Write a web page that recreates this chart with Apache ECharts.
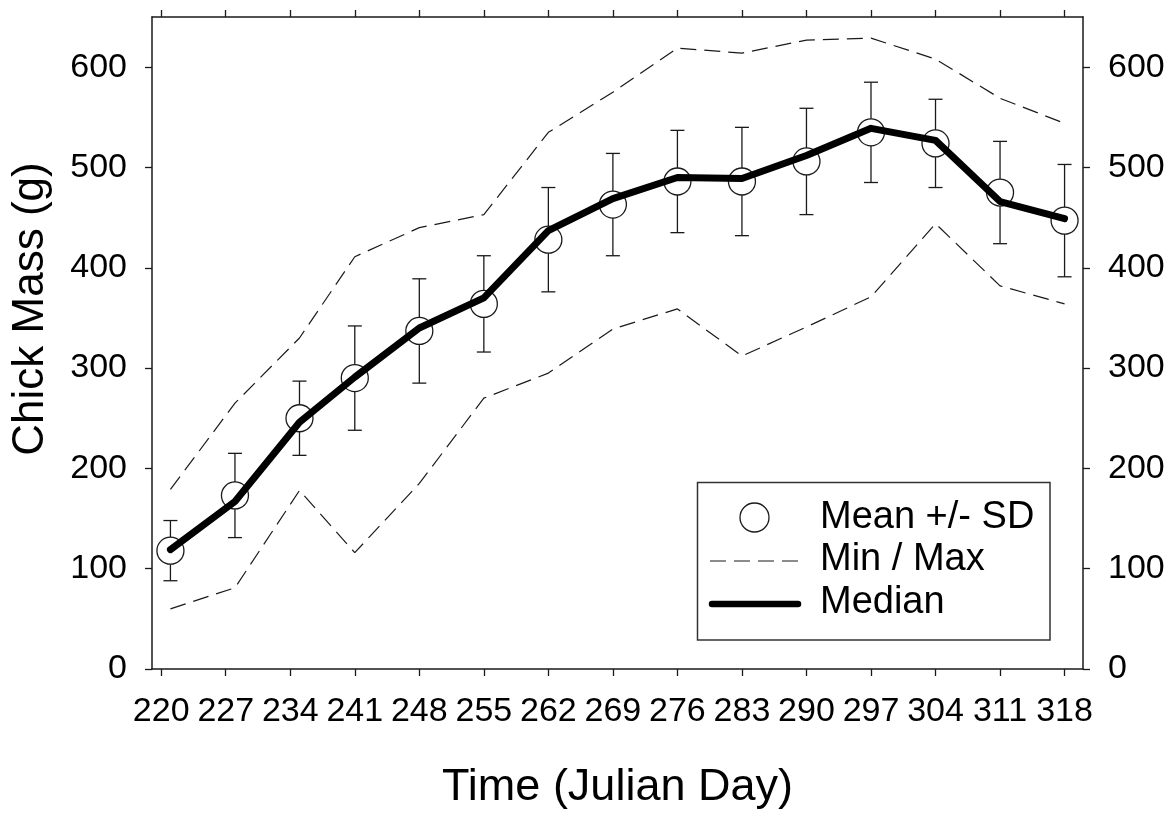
<!DOCTYPE html>
<html>
<head>
<meta charset="utf-8">
<title>Chick Mass</title>
<script src="https://cdn.jsdelivr.net/npm/echarts@6/dist/echarts.min.js"></script>
<style>
  html, body { margin: 0; padding: 0; background: #fff; }
  #chart { width: 1171px; height: 813px; }
</style>
</head>
<body>
<div id="chart"></div>
<script>
// tick labels
var dayTicks = [220, 227, 234, 241, 248, 255, 262, 269, 276, 283, 290, 297, 304, 311, 318]
var massTicks = [0, 100, 200, 300, 400, 500, 600]

// sampling days and values
var sampleDays = [221, 228, 235, 241, 248, 255, 262, 269, 276, 283, 290, 297, 304, 311, 318]
var meanMass   = [118, 173, 250, 290, 337, 364, 428, 463, 486, 486, 506, 535, 524, 475, 447]
var sdMass     = [30, 42, 37, 52, 52, 48, 52, 51, 51, 54, 53, 50, 44, 51, 56]
var medianMass = [119, 167, 246, 291, 340, 370, 437, 469, 490, 489, 512, 539, 527, 466, 449]
var minMass    = [60, 81, 178, 116, 185, 270, 295, 339, 359, 312, 341, 371, 444, 382, 364]
var maxMass    = [179, 265, 330, 411, 440, 453, 535, 575, 619, 614, 627, 629, 608, 569, 544]

var font = "Liberation Sans"
var ink = '#1a1a1a'
var dash = [16, 8]

function pairs(xs, ys) {
    var out = []
    for (var i = 0; i < xs.length; i++) out.push([xs[i], ys[i]])
    return out
}

var errData = []
for (var i = 0; i < sampleDays.length; i++) {
    errData.push([sampleDays[i], meanMass[i] - sdMass[i], meanMass[i] + sdMass[i]])
}

function renderErrorBar(params, api) {
    var x = api.value(0)
    var top = api.coord([x, api.value(2)])
    var bot = api.coord([x, api.value(1)])
    var cap = 7
    var st = { stroke: ink, lineWidth: 1.3 }
    return {
        type: 'group',
        children: [
            { type: 'line', shape: { x1: top[0], y1: top[1], x2: bot[0], y2: bot[1] }, style: st },
            { type: 'line', shape: { x1: top[0] - cap, y1: top[1], x2: top[0] + cap, y2: top[1] }, style: st },
            { type: 'line', shape: { x1: bot[0] - cap, y1: bot[1], x2: bot[0] + cap, y2: bot[1] }, style: st }
        ]
    }
}

function xAxisCfg(pos, withLabels) {
    return {
        type: 'value',
        position: pos,
        min: 219,
        max: 320,
        axisLine: { show: true, onZero: false, lineStyle: { color: ink, width: 1.5 } },
        axisTick: { show: true, customValues: dayTicks, length: 7, lineStyle: { color: ink, width: 1.3 } },
        axisLabel: { show: withLabels, customValues: dayTicks, margin: 26, fontSize: 34, color: '#000', fontFamily: font },
        splitLine: { show: false },
        name: withLabels ? 'Time (Julian Day)' : '',
        nameLocation: 'middle',
        nameGap: 96,
        nameTextStyle: { fontSize: 45, color: '#000', fontFamily: font }
    }
}

function yAxisCfg(pos) {
    return {
        type: 'value',
        position: pos,
        min: 0,
        max: 650,
        axisLine: { show: true, onZero: false, lineStyle: { color: ink, width: 1.5 } },
        axisTick: { show: true, customValues: massTicks, length: 7, lineStyle: { color: ink, width: 1.3 } },
        axisLabel: { customValues: massTicks, margin: 25, fontSize: 34, color: '#000', fontFamily: font },
        splitLine: { show: false }
    }
}

function legendText(y, txt) {
    return {
        type: 'text', x: 820, y: y, z: 11,
        style: { text: txt, fontSize: 38, fontFamily: font, fill: '#000', align: 'left', verticalAlign: 'middle' }
    }
}

var chart = echarts.init(document.getElementById('chart'))

var option = {
    animation: false,
    backgroundColor: '#fff',
    grid: { left: 152, right: 88, top: 17, bottom: 144, containLabel: false, outerBoundsMode: 'none' },
    xAxis: [xAxisCfg('bottom', true), xAxisCfg('top', false)],
    yAxis: [yAxisCfg('left'), yAxisCfg('right')],
    series: [
        {
            name: 'Max',
            type: 'line',
            data: pairs(sampleDays, maxMass),
            symbol: 'none',
            lineStyle: { color: ink, width: 1.2, type: dash },
            z: 2
        },
        {
            name: 'Min',
            type: 'line',
            data: pairs(sampleDays, minMass),
            symbol: 'none',
            lineStyle: { color: ink, width: 1.2, type: dash },
            z: 2
        },
        {
            name: 'SD',
            type: 'custom',
            data: errData,
            renderItem: renderErrorBar,
            encode: { x: 0, y: [1, 2] },
            z: 3
        },
        {
            name: 'Mean +/- SD',
            type: 'scatter',
            data: pairs(sampleDays, meanMass),
            symbol: 'circle',
            symbolSize: 27,
            itemStyle: { color: '#fff', borderColor: ink, borderWidth: 1.3, opacity: 1 },
            z: 4
        },
        {
            name: 'Median',
            type: 'line',
            data: pairs(sampleDays, medianMass),
            symbol: 'none',
            lineStyle: { color: '#000', width: 7, join: 'round', cap: 'round' },
            z: 5
        }
    ],
    graphic: [
        // y axis title, placed off-centre like the original
        {
            type: 'text',
            x: 31,
            y: 309,
            rotation: Math.PI / 2,
            style: { text: 'Chick Mass (g)', fontSize: 44, fontFamily: font, fill: '#000', align: 'center', verticalAlign: 'middle' }
        },
        // legend box
        {
            type: 'rect',
            shape: { x: 697.5, y: 482.5, width: 352.5, height: 157.5 },
            style: { fill: '#fff', stroke: '#333', lineWidth: 1.5 },
            z: 10
        },
        {
            type: 'circle',
            shape: { cx: 754.5, cy: 517.5, r: 14.5 },
            style: { fill: '#fff', stroke: ink, lineWidth: 1.3 },
            z: 11
        },
        {
            type: 'line',
            shape: { x1: 710, y1: 561, x2: 800, y2: 561 },
            style: { stroke: ink, lineWidth: 1.2, lineDash: dash },
            z: 11
        },
        {
            type: 'line',
            shape: { x1: 712, y1: 604, x2: 798, y2: 604 },
            style: { stroke: '#000', lineWidth: 6.5, lineCap: 'round' },
            z: 11
        },
        legendText(518, 'Mean +/- SD'),
        legendText(560, 'Min / Max'),
        legendText(603, 'Median')
    ]
}

chart.setOption(option)
</script>
</body>
</html>
